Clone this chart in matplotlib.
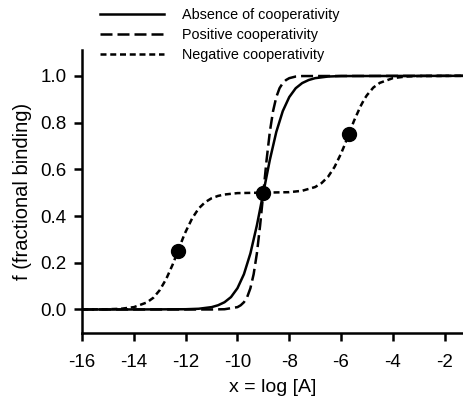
import matplotlib
matplotlib.use('Agg')
import matplotlib.pyplot as plt

plt.rcParams['font.family'] = ['Liberation Sans', 'DejaVu Sans']
plt.rcParams['axes.unicode_minus'] = False

# absence of cooperativity
xAbs = [-16, -14, -12, -11.5, -11, -10.75, -10.5, -10.25, -10, -9.75, -9.5, -9.25, -9,
        -8.75, -8.5, -8.25, -8, -7.75, -7.5, -7.25, -7, -6.5, -6, -1.25]
yAbs = [0.0, 0.0, 0.001, 0.003, 0.01, 0.018, 0.031, 0.053, 0.091, 0.151, 0.24, 0.36, 0.5,
        0.64, 0.76, 0.849, 0.909, 0.947, 0.969, 0.982, 0.99, 0.997, 0.999, 1.0]

# positive cooperativity
xPos = [-16, -11, -10.5, -10, -9.875, -9.75, -9.625, -9.5, -9.375, -9.25, -9.125, -9,
        -8.875, -8.75, -8.625, -8.5, -8.375, -8.25, -8.125, -8, -7.75, -7.5, -1.25]
yPos = [0.0, 0.0, 0.001, 0.01, 0.018, 0.031, 0.053, 0.091, 0.151, 0.24, 0.36, 0.5,
        0.64, 0.76, 0.849, 0.909, 0.947, 0.969, 0.982, 0.99, 0.997, 0.999, 1.0]

# negative cooperativity
xNeg = [-16, -15, -14.5, -14, -13.5, -13.25, -13, -12.75, -12.5, -12.3, -12.1, -12, -11.75,
        -11.5, -11.25, -11, -10.75, -10.5, -10, -9, -8, -7.5, -7, -6.75, -6.5, -6.25, -6,
        -5.85, -5.7, -5.5, -5.25, -5.1, -5, -4.75, -4.5, -4, -3.5, -3, -1.25]
yNeg = [0.0, 0.001, 0.003, 0.01, 0.03, 0.05, 0.083, 0.131, 0.193, 0.25, 0.307, 0.333, 0.39,
        0.432, 0.459, 0.476, 0.486, 0.492, 0.498, 0.5, 0.502, 0.508, 0.524, 0.541, 0.568, 0.61, 0.667,
        0.707, 0.75, 0.807, 0.869, 0.9, 0.917, 0.95, 0.97, 0.99, 0.997, 0.999, 1.0]

# marked points
xPts = [-12.3, -9, -5.7]
yPts = [0.25, 0.5, 0.75]

fig = plt.figure(figsize=(4.64, 4.01), dpi=100)
ax = fig.add_axes([0.177, 0.170, 0.823, 0.705])

lw = 1.8
ax.plot(xAbs, yAbs, color='black', lw=lw, label='Absence of cooperativity')
ax.plot(xPos, yPos, color='black', lw=lw, dashes=(4.8, 2.0), label='Positive cooperativity')
ax.plot(xNeg, yNeg, color='black', lw=lw, dashes=(2.4, 1.5), label='Negative cooperativity')
ax.plot(xPts, yPts, 'o', color='black', markersize=10, zorder=5)

ax.set_xlim(-16, -1.25)
ax.set_ylim(-0.1, 1.11)
ax.set_xticks([-16, -14, -12, -10, -8, -6, -4, -2])
ax.set_yticks([0.0, 0.2, 0.4, 0.6, 0.8, 1.0])
ax.set_yticklabels(['0.0', '0.2', '0.4', '0.6', '0.8', '1.0'])

for s in ['top', 'right']:
    ax.spines[s].set_visible(False)
for s in ['left', 'bottom']:
    ax.spines[s].set_linewidth(1.8)
ax.tick_params(direction='out', length=6, width=1.8, labelsize=13.5, pad=5)
ax.tick_params(axis='x', pad=9)

ax.set_xlabel('x = log [A]', fontsize=14, labelpad=6)
ax.set_ylabel('f (fractional binding)', fontsize=14.5, labelpad=6)

fig.legend(loc='upper left', bbox_to_anchor=(100 / 464, 1 - 8 / 401), frameon=False, fontsize=10.4,
           handlelength=4.4, handletextpad=1.3, labelspacing=0.42, borderaxespad=0.0, borderpad=0.0)

fig.savefig('out.png', dpi=100)
